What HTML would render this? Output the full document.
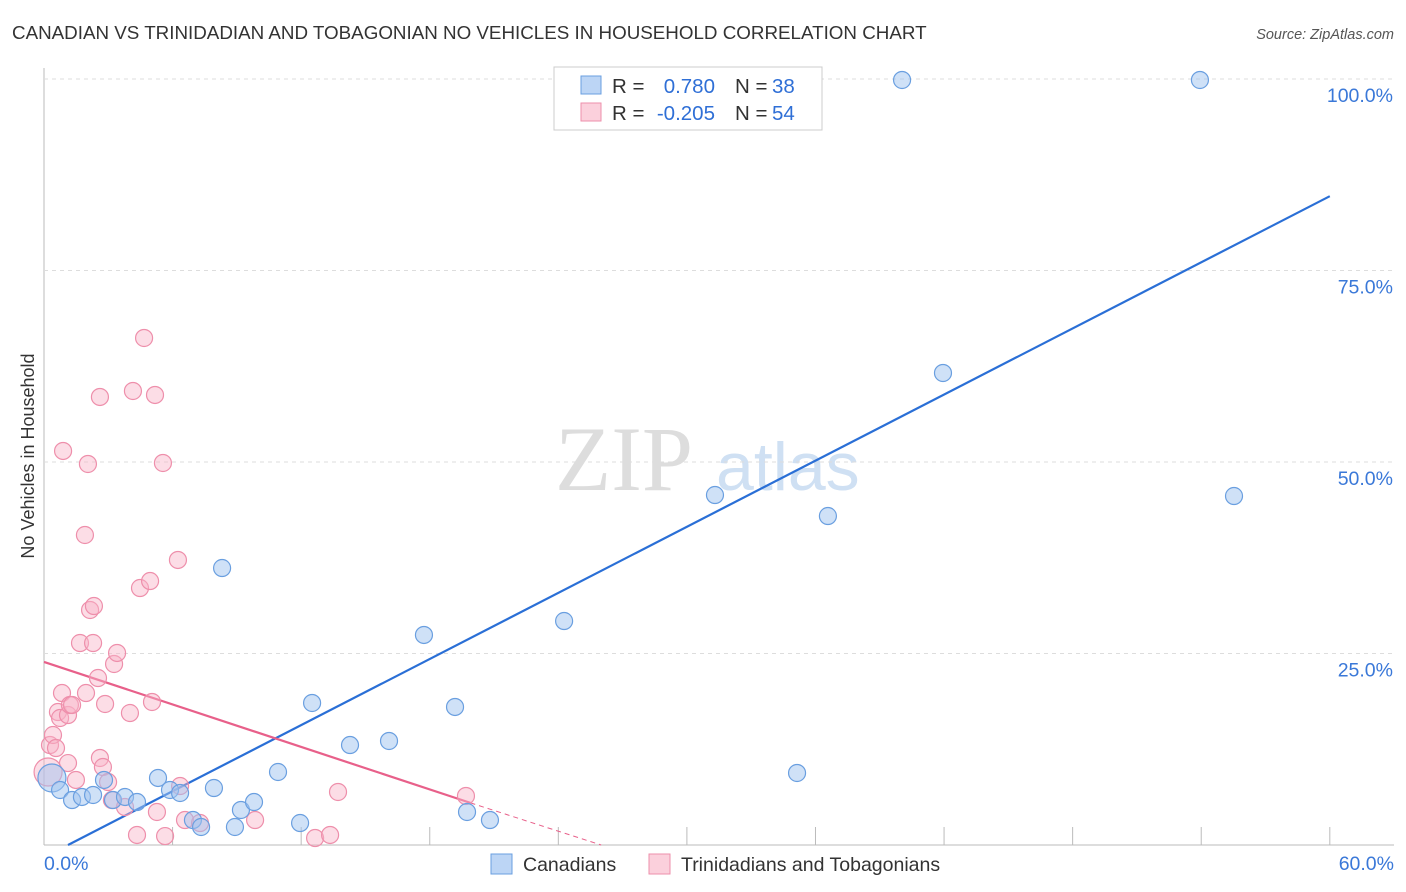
<!DOCTYPE html>
<html><head><meta charset="utf-8"><style>
body{margin:0;background:#fff;font-family:"Liberation Sans",sans-serif;}
svg{display:block}
</style></head><body>
<svg id="chart" width="1406" height="892">
<text x="12" y="39" font-size="18.8" fill="#333">CANADIAN VS TRINIDADIAN AND TOBAGONIAN NO VEHICLES IN HOUSEHOLD CORRELATION CHART</text>
<text x="1394" y="39" font-size="14.5" fill="#555" font-style="italic" text-anchor="end">Source: ZipAtlas.com</text>
<text transform="translate(34,456) rotate(-90)" font-size="18" fill="#333" text-anchor="middle">No Vehicles in Household</text>
<g><text x="555" y="490" font-size="92" fill="#ddd" font-family="Liberation Serif,serif">ZIP</text><text x="716" y="490" font-size="68" fill="#cfe0f3">atlas</text></g>
<g id="grid"></g><g id="lines"></g><g id="pts"></g>
<g>
<rect x="554" y="67" width="268" height="63" fill="#fff" stroke="#ccc"/>
<rect x="581" y="76" width="20" height="18" fill="#bcd5f5" stroke="#6a9fe0"/>
<rect x="581" y="103" width="20" height="18" fill="#fbd0dc" stroke="#ee8fab"/>
<g font-size="20.5" fill="#333">
<text x="612" y="93">R =</text><text x="715" y="93" fill="#2f6fd6" text-anchor="end">0.780</text><text x="735" y="93">N =</text><text x="772" y="93" fill="#2f6fd6">38</text>
<text x="612" y="120">R =</text><text x="715" y="120" fill="#2f6fd6" text-anchor="end">-0.205</text><text x="735" y="120">N =</text><text x="772" y="120" fill="#2f6fd6">54</text>
</g>
</g>
<g>
<rect x="491" y="854" width="21" height="20" fill="#bcd5f5" stroke="#6a9fe0"/>
<text x="523" y="871" font-size="19.5" fill="#333">Canadians</text>
<rect x="649" y="854" width="21" height="20" fill="#fbd0dc" stroke="#ee8fab"/>
<text x="681" y="871" font-size="19.5" fill="#333">Trinidadians and Tobagonians</text>
</g>
</svg>
<script>
const xTicks=[0,6,12,18,24,30,36,42,48,54,60];
const yTicks=[25,50,75,100];
const blueX=[0.37,0.75,1.31,1.77,2.29,2.8,3.22,3.78,4.34,5.32,5.88,6.35,6.95,7.33,7.93,8.91,9.19,9.8,10.92,11.95,12.51,14.28,16.1,17.73,19.18,19.74,20.81,24.27,8.31,31.31,35.14,36.58,41.95,40.04,53.94,55.53,32.48];
const blueY=[8.75,7.18,5.87,6.27,6.53,8.49,5.87,6.27,5.61,8.75,7.18,6.79,3.26,2.35,7.44,2.35,4.57,5.61,9.53,2.87,18.54,13.05,13.58,27.42,18.02,4.31,3.26,29.24,36.16,45.69,9.4,42.95,61.62,99.87,99.87,45.56,99.9];
const pinkX=[0.19,0.28,0.42,0.56,0.65,0.75,0.84,1.12,1.21,1.31,1.12,1.49,1.68,1.96,2.29,2.15,2.33,2.52,2.61,2.85,2.61,2.75,3.27,3.41,1.91,2.05,0.89,2.99,3.17,3.78,4.01,4.15,4.34,4.48,4.95,5.04,5.18,4.67,5.55,5.27,5.65,6.25,6.35,6.58,7.28,9.85,12.65,13.35,13.72,19.69];
const pinkY=[9.53,13.05,14.36,12.66,17.36,16.58,19.84,16.97,18.28,18.28,10.7,8.49,26.37,19.84,26.37,30.68,31.2,21.8,58.49,18.41,11.36,10.18,23.63,25.07,40.47,49.74,51.44,8.22,5.87,4.96,17.23,59.27,1.31,33.55,34.46,18.67,58.75,66.19,49.87,4.31,1.17,37.21,7.7,3.26,2.87,3.26,0.91,1.31,6.92,6.4];
const blueLine=[1.12,0,60,84.7];
const pinkLine=[0,23.9,19.9,5.5,26,0];
const sx=v=>44+v*21.43, sy=v=>845-v*7.66;
const NS="http://www.w3.org/2000/svg";
function mk(p,t,a){const e=document.createElementNS(NS,t);for(const k in a)e.setAttribute(k,a[k]);p.appendChild(e);return e;}
const grid=document.getElementById('grid'),lines=document.getElementById('lines'),pts=document.getElementById('pts');
mk(grid,'line',{x1:44,y1:68,x2:44,y2:845,stroke:'#bbb'});
mk(grid,'line',{x1:44,y1:845,x2:1394,y2:845,stroke:'#bbb'});
yTicks.forEach(t=>{const l=mk(grid,'line',{x1:44,y1:sy(t),x2:1394,y2:sy(t),stroke:'#ddd','stroke-dasharray':'4,4'});


const tx=mk(grid,'text',{x:1393,y:sy(t)+23,'font-size':19.5,fill:'#3a78d8','text-anchor':'end'});tx.textContent=t.toFixed(1)+'%';

});
xTicks.forEach(t=>{const l=mk(grid,'line',{x1:sx(t),y1:827,x2:sx(t),y2:845,stroke:'#bbb'});

});
[[0,'0.0%','start',44],[60,'60.0%','end',1394]].forEach(a=>{const tx=mk(grid,'text',{x:a[3],y:870,'font-size':19.5,fill:'#3a78d8','text-anchor':a[2]});tx.textContent=a[1];

});
function dot(x,y,big,blue){const c=mk(pts,'circle',{cx:sx(x),cy:sy(y),r:big?14:8.5,fill:blue?'rgba(160,195,240,0.5)':'rgba(248,180,200,0.45)',stroke:blue?'#6a9fe0':'#ee8fab','stroke-width':1.2});

}
pinkX.forEach((x,i)=>dot(x,pinkY[i],i==0,false));
blueX.forEach((x,i)=>dot(x,blueY[i],i==0,true));
let l=mk(lines,'line',{x1:sx(blueLine[0]),y1:sy(blueLine[1]),x2:sx(blueLine[2]),y2:sy(blueLine[3]),stroke:'#2a6fd6','stroke-width':2.2});


l=mk(lines,'line',{x1:sx(pinkLine[0]),y1:sy(pinkLine[1]),x2:sx(pinkLine[2]),y2:sy(pinkLine[3]),stroke:'#e8608a','stroke-width':2.2});


l=mk(lines,'line',{x1:sx(pinkLine[2]),y1:sy(pinkLine[3]),x2:sx(pinkLine[4]),y2:sy(pinkLine[5]),stroke:'#e8608a','stroke-width':1,'stroke-dasharray':'5,4'});


</script>
</body></html>
